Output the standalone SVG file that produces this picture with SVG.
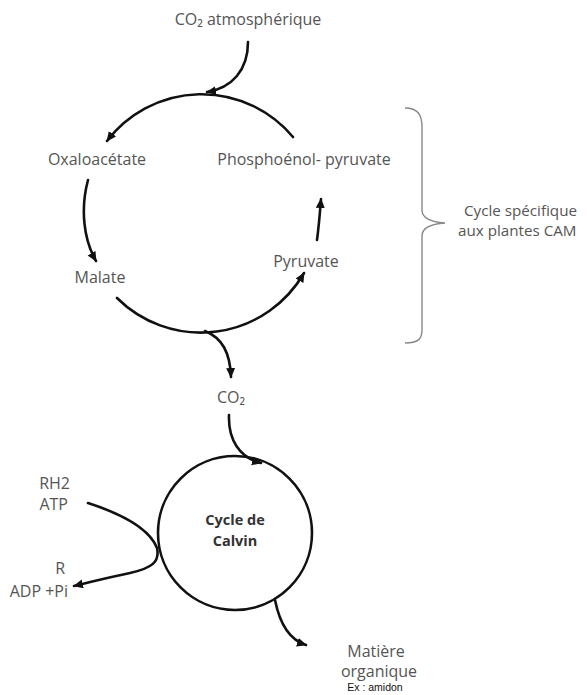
<svg xmlns="http://www.w3.org/2000/svg" width="587" height="695" viewBox="0 0 587 695">
<style>
text{font-family:"Open Sans","Noto Sans","DejaVu Sans",sans-serif;fill:#555;font-size:16px}
.m{text-anchor:middle}
.e{text-anchor:end}
.c{font-size:15.2px}
.b{font-weight:bold;font-size:14.5px;fill:#333}
.s{font-family:"Liberation Sans",Arial,sans-serif;font-size:10.5px;fill:#111}
.ln{fill:none;stroke:#111;stroke-width:2.6;stroke-linecap:round}
.br{fill:none;stroke:#888;stroke-width:1.4}
</style>
<defs>
<marker id="ah" markerUnits="userSpaceOnUse" markerWidth="12" markerHeight="10" refX="9" refY="4.5" orient="auto">
<path d="M0,0 L10,4.5 L0,9 z" fill="#111"/>
</marker>
</defs>
<rect width="587" height="695" fill="#fff"/>
<g id="connectors">
<path class="ln" d="M248,42 C248,70 232,88 207,92" marker-end="url(#ah)"/>
<path class="ln" d="M293,137 A119,119 0 0 0 107,141" marker-end="url(#ah)"/>
<path class="ln" d="M88,180 C80,210 84,240 96,261" marker-end="url(#ah)"/>
<path class="ln" d="M117,298 A119,119 0 0 0 304,273" marker-end="url(#ah)"/>
<path class="ln" d="M317,240 C319,225 320,212 321,199" marker-end="url(#ah)"/>
<path class="ln" d="M205,331 C222,338 230,352 231,377" marker-end="url(#ah)"/>
<path class="ln" d="M229,415 C228,440 240,458 261,463" marker-end="url(#ah)"/>
<path class="ln" d="M88,503 C125,515 150,530 157,548 C160,562 152,568 130,573 C110,577 95,581 74,586" marker-end="url(#ah)"/>
<path class="ln" d="M275,600 C280,625 290,640 306,645" marker-end="url(#ah)"/>
</g>
<g id="brace"><path class="br" d="M405,108 C418,108 422,115 422,127 L422,210 C422,218 430,222 445,223 C430,224 422,228 422,236 L422,330 C422,339 418,343 405,343"/></g>
<g id="co2atm"><text class="m" x="248" y="25">CO₂ atmosphérique</text></g>
<g id="oxalo"><text class="m" x="97" y="165">Oxaloacétate</text></g>
<g id="pep"><text class="m" x="304" y="165">Phosphoénol- pyruvate</text></g>
<g id="malate"><text class="m" x="100" y="283">Malate</text></g>
<g id="pyruvate"><text class="m" x="306" y="267">Pyruvate</text></g>
<g id="cam"><text class="c" x="464" y="216">Cycle spécifique</text><text class="c" x="458" y="236">aux plantes CAM</text></g>
<g id="co2"><text class="m" x="231" y="403">CO₂</text></g>
<g id="calvin"><circle cx="235" cy="533" r="77" fill="none" stroke="#111" stroke-width="2.6"/><text class="m b" x="235" y="525">Cycle de</text><text class="m b" x="235" y="546">Calvin</text></g>
<g id="rh2"><text class="e" x="70" y="489">RH2</text><text class="e" x="68" y="510">ATP</text></g>
<g id="adp"><text class="e" x="65" y="574">R</text><text class="e" x="68" y="597">ADP +Pi</text></g>
<g id="matiere"><text class="m" x="376" y="657">Matière</text><text class="m" x="379" y="677">organique</text><text class="s m" x="375" y="691">Ex : amidon</text></g>
</svg>
